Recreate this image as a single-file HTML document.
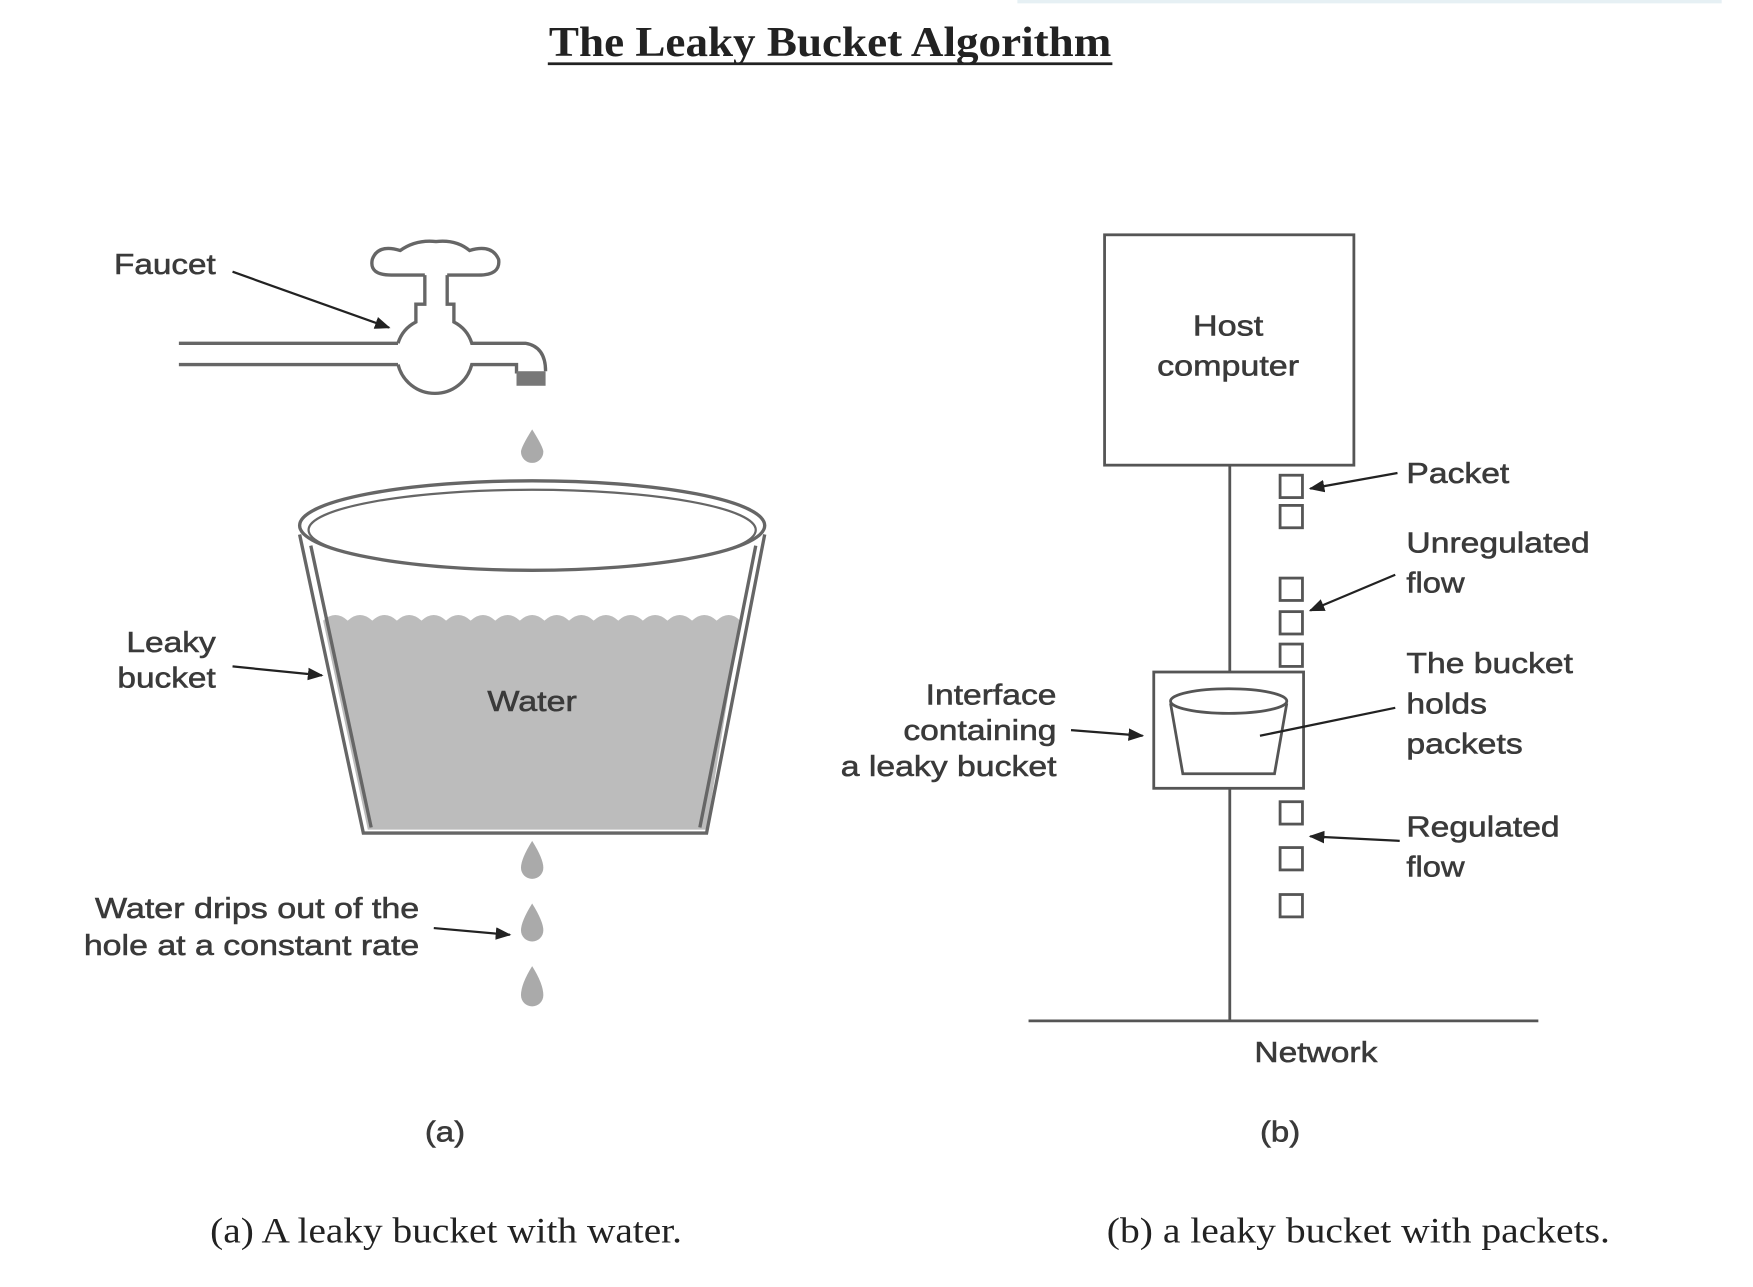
<!DOCTYPE html>
<html><head><meta charset="utf-8"><style>
html,body{margin:0;padding:0;background:#fff;width:1753px;height:1287px;overflow:hidden}
svg{display:block}
.s{font-family:"Liberation Sans",sans-serif;font-size:26px;fill:#3a3a3a;stroke:#3a3a3a;stroke-width:0.5}
.r{font-family:"Liberation Serif",serif;fill:#222}
</style></head><body>
<svg width="1753" height="1287" viewBox="0 0 1568 1151" preserveAspectRatio="none" xmlns="http://www.w3.org/2000/svg">
<defs><marker id="a" viewBox="0 0 10 10" refX="9" refY="5" markerWidth="7" markerHeight="7" orient="auto"><path d="M0,1 L10,5 L0,9 z" fill="#222"/></marker></defs>
<rect x="910" y="0" width="630" height="3" fill="#e6f0f4"/>
<text x="491" y="50" class="r" font-size="38" font-weight="bold" textLength="503" lengthAdjust="spacingAndGlyphs">The Leaky Bucket Algorithm</text>
<line x1="490" y1="57" x2="995" y2="57" stroke="#222" stroke-width="2.5"/>
<g fill="none" stroke="#666" stroke-width="3">
<line x1="160" y1="307" x2="356" y2="307"/><line x1="160" y1="326" x2="356" y2="326"/>
<path d="M356,307 A32,32 0 0 1 372,288 L372,272 L380,272 L380,246 M400,246 L400,272 L406,272 L406,288 A32,32 0 0 1 422,307 L470,307 Q488,310 488,332"/>
<path d="M356,326 A34,34 0 0 0 422,326 L462,326 L462,334"/>
<path d="M380,246 L350,246 Q330,246 333,232 Q338,218 358,224 Q372,214 390,216 Q408,214 420,224 Q440,218 446,232 Q448,246 428,246 L400,246"/>
</g>
<rect x="462" y="332" width="26" height="13" fill="#777"/>
<text x="102" y="245" class="s" textLength="91" lengthAdjust="spacingAndGlyphs">Faucet</text>
<line x1="208" y1="243" x2="348" y2="293" stroke="#222" stroke-width="2" marker-end="url(#a)"/>
<g fill="#aaa">
<path d="M476,384 Q466,400 466,404 A10,10 0 0 0 486,404 Q486,400 476,384z"/>
<path d="M476,752 Q466,768 466,776 A10,10 0 0 0 486,776 Q486,768 476,752z"/>
<path d="M476,808 Q466,824 466,832 A10,10 0 0 0 486,832 Q486,824 476,808z"/>
<path d="M476,864 Q466,880 466,890 A10,10 0 0 0 486,890 Q486,880 476,864z"/>
</g>
<path d="M289,555 Q300,545 311,555 Q322,545 333,555 Q344,545 355,555 Q366,545 377,555 Q388,545 399,555 Q410,545 421,555 Q432,545 443,555 Q454,545 465,555 Q476,545 487,555 Q498,545 509,555 Q520,545 531,555 Q542,545 553,555 Q564,545 575,555 Q586,545 597,555 Q608,545 619,555 Q630,545 641,555 Q652,545 662,555 L632,742 L329,742 Z" fill="#bcbcbc"/>
<g fill="none" stroke="#666" stroke-width="3">
<path d="M268,478 L325,745 L632,745 L684,478"/>
<path d="M278,488 L332,740 M626,740 L676,488"/>
<ellipse cx="476" cy="470" rx="208" ry="40"/>
<ellipse cx="476" cy="474" rx="200" ry="36" stroke-width="2"/>
</g>
<text x="436" y="636" class="s" textLength="80" lengthAdjust="spacingAndGlyphs">Water</text>
<text x="113" y="583" class="s" textLength="80" lengthAdjust="spacingAndGlyphs">Leaky</text>
<text x="105" y="615" class="s" textLength="88" lengthAdjust="spacingAndGlyphs">bucket</text>
<line x1="208" y1="596" x2="288" y2="604" stroke="#222" stroke-width="2" marker-end="url(#a)"/>
<text x="85" y="821" class="s" textLength="290" lengthAdjust="spacingAndGlyphs">Water drips out of the</text>
<text x="75" y="854" class="s" textLength="300" lengthAdjust="spacingAndGlyphs">hole at a constant rate</text>
<line x1="388" y1="830" x2="456" y2="836" stroke="#222" stroke-width="2" marker-end="url(#a)"/>
<text x="380" y="1021" class="s" textLength="36" lengthAdjust="spacingAndGlyphs">(a)</text>
<text x="1127" y="1021" class="s" textLength="36" lengthAdjust="spacingAndGlyphs">(b)</text>
<text x="188" y="1111" class="r" font-size="32" textLength="422" lengthAdjust="spacingAndGlyphs">(a) A leaky bucket with water.</text>
<text x="990" y="1111" class="r" font-size="32" textLength="450" lengthAdjust="spacingAndGlyphs">(b) a leaky bucket with packets.</text>
<g fill="none" stroke="#555" stroke-width="2.5">
<rect x="988" y="210" width="223" height="206"/>
<line x1="1100" y1="416" x2="1100" y2="601"/><line x1="1100" y1="705" x2="1100" y2="913"/>
<line x1="920" y1="913" x2="1376" y2="913"/>
<rect x="1032" y="601" width="134" height="104"/>
<ellipse cx="1099" cy="627" rx="52" ry="11"/>
<path d="M1047,629 L1058,692 L1140,692 L1151,629"/>
<rect x="1145" y="425" width="20" height="20"/><rect x="1145" y="452" width="20" height="20"/>
<rect x="1145" y="517" width="20" height="20"/><rect x="1145" y="547" width="20" height="20"/>
<rect x="1145" y="576" width="20" height="20"/><rect x="1145" y="717" width="20" height="20"/>
<rect x="1145" y="758" width="20" height="20"/><rect x="1145" y="800" width="20" height="20"/>
</g>
<text x="1067" y="300" class="s" textLength="63" lengthAdjust="spacingAndGlyphs">Host</text>
<text x="1035" y="336" class="s" textLength="127" lengthAdjust="spacingAndGlyphs">computer</text>
<text x="1122" y="950" class="s" textLength="110" lengthAdjust="spacingAndGlyphs">Network</text>
<text x="1258" y="432" class="s" textLength="92" lengthAdjust="spacingAndGlyphs">Packet</text>
<line x1="1250" y1="423" x2="1172" y2="437" stroke="#222" stroke-width="2" marker-end="url(#a)"/>
<text x="1258" y="494" class="s" textLength="164" lengthAdjust="spacingAndGlyphs">Unregulated</text>
<text x="1258" y="530" class="s" textLength="52" lengthAdjust="spacingAndGlyphs">flow</text>
<line x1="1248" y1="514" x2="1172" y2="546" stroke="#222" stroke-width="2" marker-end="url(#a)"/>
<text x="1258" y="602" class="s" textLength="149" lengthAdjust="spacingAndGlyphs">The bucket</text>
<text x="1258" y="638" class="s" textLength="72" lengthAdjust="spacingAndGlyphs">holds</text>
<text x="1258" y="674" class="s" textLength="104" lengthAdjust="spacingAndGlyphs">packets</text>
<line x1="1248" y1="633" x2="1127" y2="658" stroke="#222" stroke-width="2"/>
<text x="828" y="630" class="s" textLength="117" lengthAdjust="spacingAndGlyphs">Interface</text>
<text x="808" y="662" class="s" textLength="137" lengthAdjust="spacingAndGlyphs">containing</text>
<text x="752" y="694" class="s" textLength="193" lengthAdjust="spacingAndGlyphs">a leaky bucket</text>
<line x1="958" y1="653" x2="1022" y2="658" stroke="#222" stroke-width="2" marker-end="url(#a)"/>
<text x="1258" y="748" class="s" textLength="137" lengthAdjust="spacingAndGlyphs">Regulated</text>
<text x="1258" y="784" class="s" textLength="52" lengthAdjust="spacingAndGlyphs">flow</text>
<line x1="1252" y1="752" x2="1172" y2="748" stroke="#222" stroke-width="2" marker-end="url(#a)"/>
</svg>
</body></html>
